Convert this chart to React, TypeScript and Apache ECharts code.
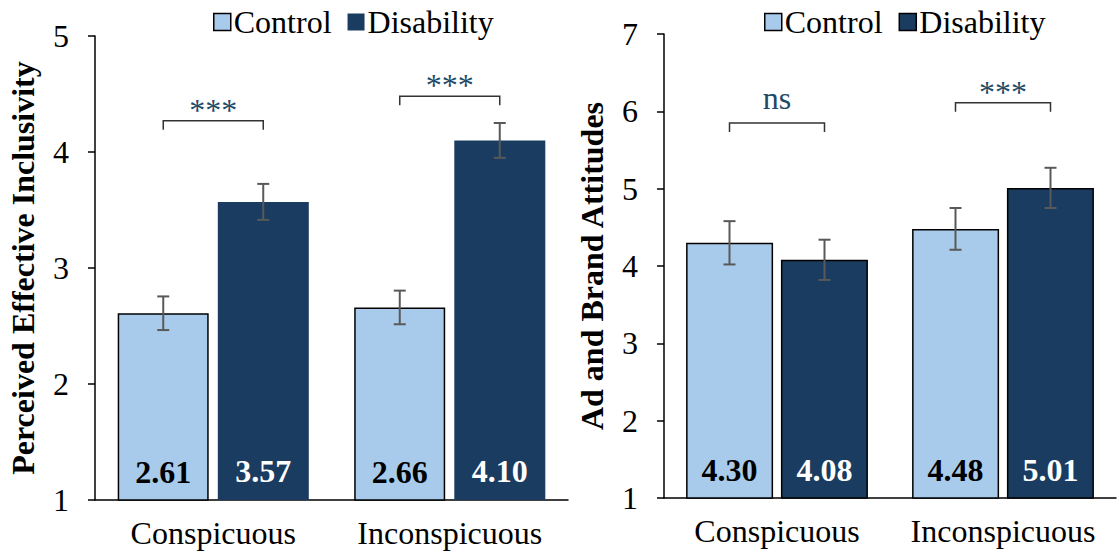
import React, { useEffect, useRef } from "react";
import * as echarts from "echarts";

const categories = ["Conspicuous", "Inconspicuous"];
const seriesNames = ["Control", "Disability"];

// Left panel: Perceived Effective Inclusivity
const peiControl = [2.61, 2.66];
const peiDisability = [3.57, 4.1];
const peiControlErr = [0.145, 0.145];
const peiDisabilityErr = [0.155, 0.15];
const peiBrackets = [
  { cat: 0, y: 4.27, label: "***" },
  { cat: 1, y: 4.48, label: "***" },
];
const peiTicks = { min: 1, max: 5, interval: 1 };

// Right panel: Ad and Brand Attitudes
const abaControl = [4.3, 4.48];
const abaDisability = [4.08, 5.01];
const abaControlErr = [0.28, 0.27];
const abaDisabilityErr = [0.26, 0.26];
const abaBrackets = [
  { cat: 0, y: 5.85, label: "ns" },
  { cat: 1, y: 6.11, label: "***" },
];
const abaTicks = { min: 1, max: 7, interval: 1 };

const FONT = "'Liberation Serif', 'Times New Roman', serif";
const FS = 32;
const LIGHT = "#A8CBEC";
const DARK = "#1A3C61";
const ERR = "#595959";
const SIG = "#1F4A66";

function errSeries(grid: number, values: number[], errs: number[], shift: number) {
  return {
    type: "custom",
    xAxisIndex: grid,
    yAxisIndex: grid,
    z: 10,
    clip: false,
    silent: true,
    encode: { x: 0, y: [1, 2] },
    data: values.map((v, i) => [i, v - errs[i], v + errs[i]]),
    renderItem: (params: any, api: any) => {
      const cat = api.value(0);
      const top = api.coord([cat, api.value(2)]);
      const bot = api.coord([cat, api.value(1)]);
      const x = top[0] + shift;
      const cap = 6;
      const style = { stroke: ERR, lineWidth: 2 };
      return {
        type: "group",
        children: [
          { type: "line", shape: { x1: x, y1: top[1], x2: x, y2: bot[1] }, style },
          { type: "line", shape: { x1: x - cap, y1: top[1], x2: x + cap, y2: top[1] }, style },
          { type: "line", shape: { x1: x - cap, y1: bot[1], x2: x + cap, y2: bot[1] }, style },
        ],
      };
    },
  };
}

function bracketSeries(grid: number, brackets: { cat: number; y: number; label: string }[], shift: number) {
  return {
    type: "custom",
    xAxisIndex: grid,
    yAxisIndex: grid,
    z: 10,
    clip: false,
    silent: true,
    encode: { x: 0, y: 1 },
    data: brackets.map((b) => [b.cat, b.y, b.label]),
    renderItem: (params: any, api: any) => {
      const cat = api.value(0);
      const p = api.coord([cat, api.value(1)]);
      const label = brackets[params.dataIndex].label;
      const x1 = p[0] - shift;
      const x2 = p[0] + shift;
      const y = p[1];
      const t = 9;
      return {
        type: "group",
        children: [
          {
            type: "polyline",
            shape: { points: [[x1, y + t], [x1, y], [x2, y], [x2, y + t]] },
            style: { stroke: "#333", lineWidth: 1.5, fill: "none" },
          },
          {
            type: "text",
            x: p[0],
            y: label === "ns" ? y - 9 : y + 5,
            style: {
              text: label,
              fill: SIG,
              font: `${FS}px ${FONT}`,
              align: "center",
              verticalAlign: "bottom",
            },
          },
        ],
      };
    },
  };
}

export default function App() {
  const ref = useRef<HTMLDivElement>(null);
  useEffect(() => {
    if (!ref.current) return;
    const chart = echarts.init(ref.current, undefined, { renderer: "svg" });
    const leftShift = 50;
    const rightShift = 47.5;
    const axisLabelStyle = { fontFamily: FONT, fontSize: FS, color: "#000" };
    const xAxisCommon = (grid: number) => ({
      type: "category",
      gridIndex: grid,
      data: categories,
      axisLine: { lineStyle: { color: "#000", width: 1.5 } },
      axisTick: { show: false },
      axisLabel: { ...axisLabelStyle, margin: 17, interval: 0, hideOverlap: false },
    });
    const yAxisCommon = (grid: number, ticks: any, name: string) => ({
      type: "value",
      gridIndex: grid,
      min: ticks.min,
      max: ticks.max,
      interval: ticks.interval,
      name,
      nameLocation: "middle",
      nameGap: 56,
      nameTextStyle: { fontFamily: FONT, fontSize: FS, fontWeight: "bold", color: "#000" },
      axisLine: { show: true, lineStyle: { color: "#000", width: 1.5 } },
      axisTick: { show: true, length: 7, lineStyle: { color: "#000", width: 1.5 } },
      splitLine: { show: false },
      axisLabel: { ...axisLabelStyle, margin: 26 },
    });
    const barLabel = (color: string) => ({
      show: true,
      position: "insideBottom",
      distance: 13,
      fontFamily: FONT,
      fontSize: FS,
      fontWeight: "bold",
      color,
      formatter: (p: any) => p.value.toFixed(2),
    });
    const legendCommon = (left: number) => ({
      left,
      top: 1,
      itemWidth: 17,
      itemHeight: 17,
      itemGap: 16,
      icon: "rect",
      textStyle: { fontFamily: FONT, fontSize: FS, color: "#000", padding: [0, 0, 0, -2] },
    });
    chart.setOption({
      animation: false,
      legend: [
        {
          ...legendCommon(208),
          data: [
            { name: seriesNames[0], itemStyle: { color: LIGHT, borderColor: "#000", borderWidth: 1.5 } },
            { name: seriesNames[1], itemStyle: { color: DARK, borderWidth: 0 } },
          ],
        },
        {
          ...legendCommon(759),
          data: [
            { name: seriesNames[0], itemStyle: { color: LIGHT, borderColor: "#000", borderWidth: 1.5 } },
            { name: seriesNames[1], itemStyle: { color: DARK, borderColor: "#000", borderWidth: 1.5 } },
          ],
        },
      ],
      grid: [
        { left: 95, top: 36, width: 473, height: 464 },
        { left: 664, top: 34, width: 452, height: 464 },
      ],
      xAxis: [xAxisCommon(0), xAxisCommon(1)],
      yAxis: [
        yAxisCommon(0, peiTicks, "Perceived Effective Inclusivity"),
        yAxisCommon(1, abaTicks, "Ad and Brand Attitudes"),
      ],
      series: [
        {
          name: seriesNames[0],
          type: "bar",
          xAxisIndex: 0,
          yAxisIndex: 0,
          data: peiControl,
          barWidth: 91,
          barGap: "10%",
          itemStyle: { color: LIGHT, borderColor: "#000", borderWidth: 1.5 },
          label: barLabel("#000"),
        },
        {
          name: seriesNames[1],
          type: "bar",
          xAxisIndex: 0,
          yAxisIndex: 0,
          data: peiDisability,
          barWidth: 91,
          barGap: "10%",
          itemStyle: { color: DARK },
          label: barLabel("#fff"),
        },
        {
          name: seriesNames[0],
          type: "bar",
          xAxisIndex: 1,
          yAxisIndex: 1,
          data: abaControl,
          barWidth: 87,
          barGap: "9%",
          itemStyle: { color: LIGHT, borderColor: "#000", borderWidth: 1.5 },
          label: barLabel("#000"),
        },
        {
          name: seriesNames[1],
          type: "bar",
          xAxisIndex: 1,
          yAxisIndex: 1,
          data: abaDisability,
          barWidth: 87,
          barGap: "9%",
          itemStyle: { color: DARK, borderColor: "#000", borderWidth: 1.5 },
          label: barLabel("#fff"),
        },
        errSeries(0, peiControl, peiControlErr, -leftShift),
        errSeries(0, peiDisability, peiDisabilityErr, leftShift),
        errSeries(1, abaControl, abaControlErr, -rightShift),
        errSeries(1, abaDisability, abaDisabilityErr, rightShift),
        bracketSeries(0, peiBrackets, leftShift),
        bracketSeries(1, abaBrackets, rightShift),
      ],
    });
    return () => chart.dispose();
  }, []);
  return (
    <div
      ref={ref}
      style={{ position: "fixed", left: 0, top: 0, width: 1119, height: 552, background: "#fff" }}
    />
  );
}
